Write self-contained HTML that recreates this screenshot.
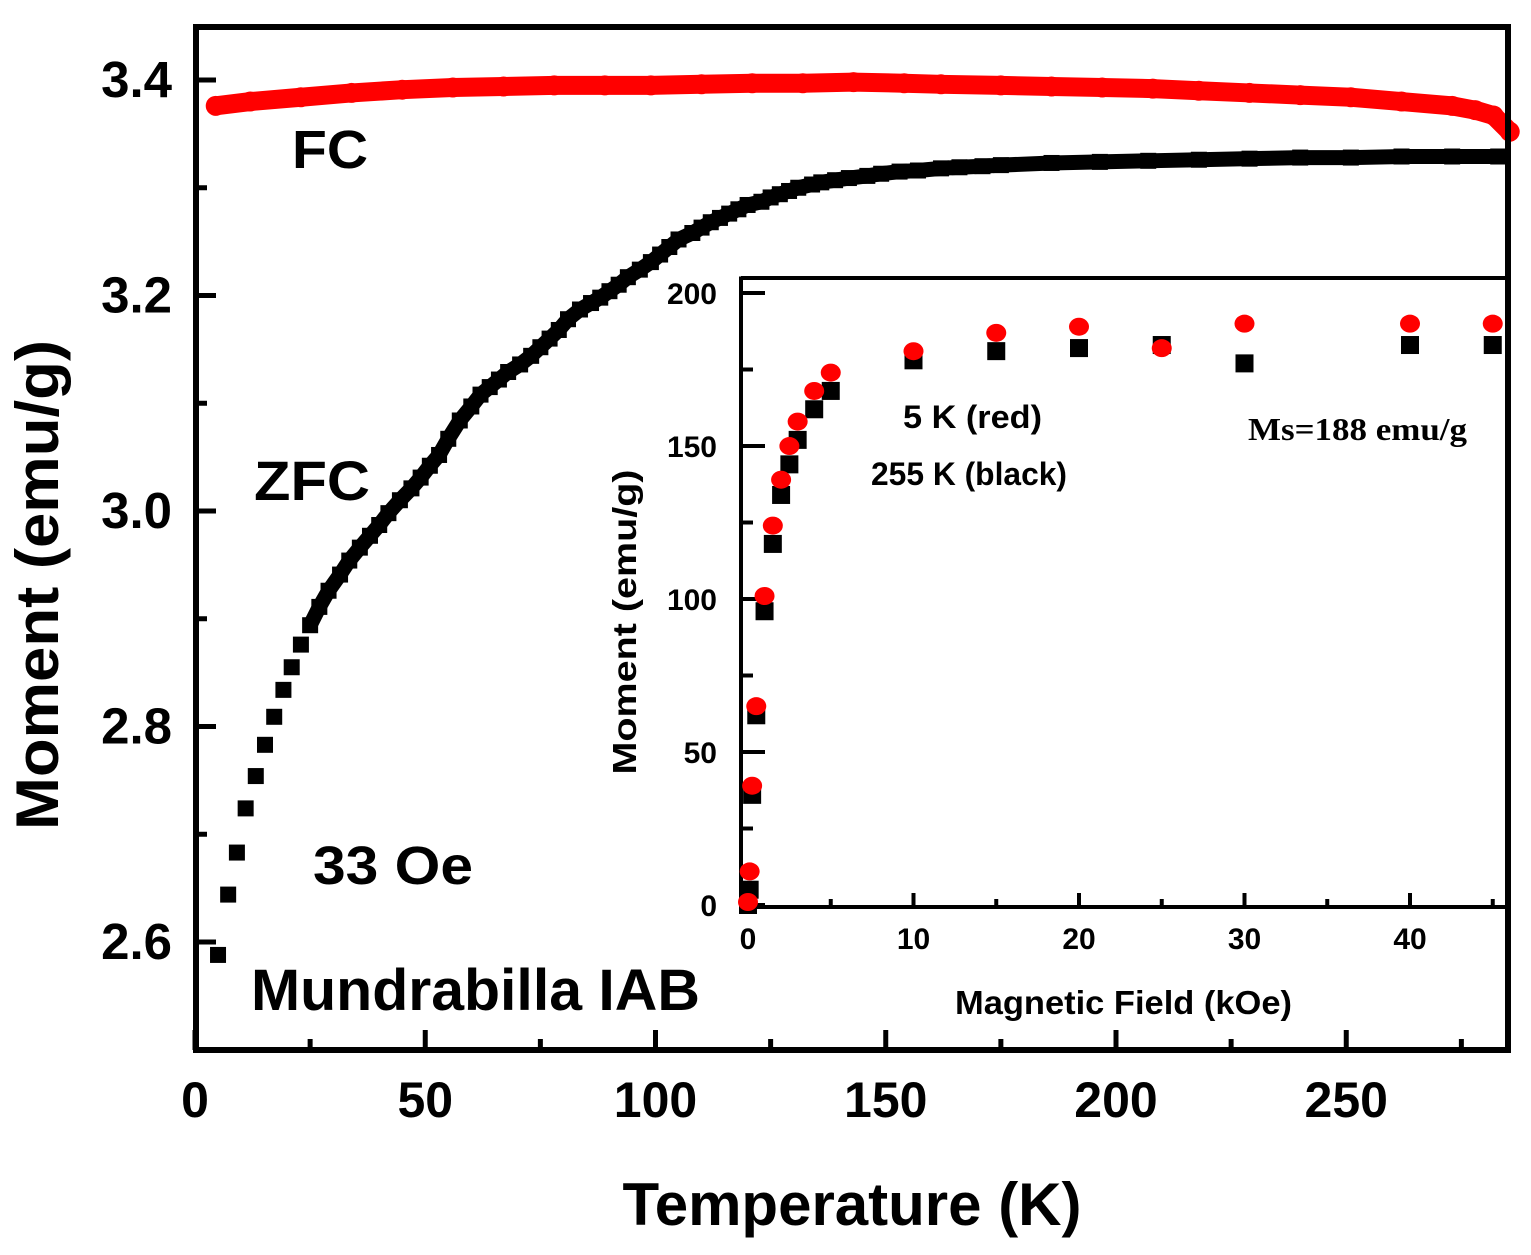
<!DOCTYPE html>
<html><head><meta charset="utf-8"><style>
html,body{margin:0;padding:0;background:#fff}
svg{display:block}
text{font-family:"Liberation Sans",Arial,sans-serif;font-weight:bold;fill:#000}
</style></head><body>
<svg id="chart" width="1531" height="1255" viewBox="0 0 1531 1255" xmlns="http://www.w3.org/2000/svg">
<g id="main"></g>
<g id="inset"></g>
</svg>
<script>
const zfcT=[5,7.2,9.1,11,13.2,15.2,17.2,19.2,21,23,25,27,29,31.5,33.5,35.8,38,40,42,44.5,47,49,51,53,55,57.5,60,62,64,66,68,70.6,73,75,77,79,81,83.6,86,88,90,92,94,96.6,99,101,103,105,108,110,112,114,116,118,120,123,125,127,129,131,134,136,139,142,146,149,153,157,162,166,171,175,186,196.5,207,218,229,240,251,262,273,283];
const zfcM=[2.588,2.644,2.683,2.724,2.754,2.783,2.809,2.834,2.855,2.876,2.894,2.911,2.926,2.941,2.954,2.966,2.977,2.987,2.998,3.010,3.021,3.031,3.042,3.052,3.067,3.084,3.097,3.108,3.115,3.122,3.129,3.136,3.144,3.152,3.160,3.168,3.178,3.187,3.193,3.198,3.204,3.210,3.217,3.224,3.231,3.238,3.245,3.252,3.258,3.263,3.268,3.272,3.276,3.280,3.284,3.287,3.291,3.294,3.297,3.300,3.303,3.305,3.307,3.309,3.311,3.313,3.315,3.316,3.318,3.319,3.320,3.321,3.323,3.324,3.325,3.326,3.327,3.328,3.328,3.329,3.329,3.329];
const fcT=[4.5,12,23,34,45,56,67,78,89,99,110,121,132,143,154,162,175,186,197,208,218,229,240,251,262,273,278,282,285.5];
const fcM=[3.376,3.380,3.384,3.388,3.391,3.393,3.394,3.395,3.395,3.395,3.396,3.397,3.397,3.398,3.397,3.396,3.395,3.394,3.393,3.392,3.390,3.388,3.386,3.384,3.380,3.376,3.372,3.367,3.352];
const xTicks=[0,50,100,150,200,250];
const yTicks=[2.6,2.8,3.0,3.2,3.4];
const yTickLabels=["2.6","2.8","3.0","3.2","3.4"];
const inH=[0,0.1,0.25,0.5,1,1.5,2,2.5,3,4,5,10,15,20,25,30,40,45];
const inRed=[0,10,38,64,100,123,138,149,157,167,173,180,186,188,181,189,189,189];
const inBlack=[0,5,36,62,96,118,134,144,152,162,168,178,181,182,183,177,183,183];
const inXTicks=[0,10,20,30,40];
const inYTicks=[0,50,100,150,200];

const NS="http://www.w3.org/2000/svg";
function mk(parent,tag,attrs){const e=document.createElementNS(NS,tag);for(const k in attrs)e.setAttribute(k,attrs[k]);parent.appendChild(e);return e;}
const main=document.getElementById('main');
const inset=document.getElementById('inset');
const X=t=>195+(t)*4.605;
const Y=m=>80+(3.4-m)*1077.5;
const L=196,R=1508,T=27,B=1050;
const IX=h=>748+h*16.55;
const IY=v=>905-v*3.06;
const IL=741,IT=278,IB=907;

for(let t=0;t<=285;t+=25){const major=t%50===0;
 const tk=mk(main,'line',{x1:X(t),x2:X(t),y1:B,y2:B-(major?20:11),stroke:'#000','stroke-width':5});
 }
xTicks.forEach(t=>{const e=mk(main,'text',{x:X(t),y:1117,'text-anchor':'middle','font-size':50});e.textContent=t;
 });
for(let m=2.5;m<=3.45;m+=0.1){const mm=Math.round(m*10)/10;const major=Math.round(mm*10)%2===0;
 const e=mk(main,'line',{x1:L,x2:L+(major?20:11),y1:Y(mm),y2:Y(mm),stroke:'#000','stroke-width':5});
 }
yTicks.forEach((m,i)=>{const e=mk(main,'text',{x:172,y:Y(m)+17,'text-anchor':'end','font-size':51});e.textContent=yTickLabels[i];
 });

const zl=mk(main,'polyline',{points:zfcT.filter((t,i)=>i>=10).map((t,i)=>X(t)+','+Y(zfcM[i+10])).join(' '),fill:'none',stroke:'#000','stroke-width':15});

zfcT.forEach((t,i)=>{const e=mk(main,'rect',{x:X(t)-8,y:Y(zfcM[i])-8,width:16,height:16,fill:'#000'});
 });
const fl=mk(main,'polyline',{points:fcT.map((t,i)=>X(t)+','+Y(fcM[i])).join(' '),fill:'none',stroke:'#f00','stroke-width':19,'stroke-linecap':'round','stroke-linejoin':'round'});

fcT.forEach((t,i)=>{const e=mk(main,'circle',{cx:X(t),cy:Y(fcM[i]),r:10,fill:'#f00'});
 });

const ib=mk(inset,'rect',{x:IL,y:IT,width:1508-IL,height:IB-IT,fill:'#fff'});

const ia=mk(inset,'path',{d:`M${IL} ${IT} H1508 M${IL} ${IT-1.5} V${IB} H1508`,stroke:'#000','stroke-width':4,fill:'none'});

for(let h=0;h<=45;h+=5){const major=h%10===0;
 const e=mk(inset,'line',{x1:IX(h),x2:IX(h),y1:IB,y2:IB-(major?14:8),stroke:'#000','stroke-width':4});
 }
inXTicks.forEach(h=>{const e=mk(inset,'text',{x:IX(h),y:949,'text-anchor':'middle','font-size':30});e.textContent=h;
 });
for(let v=0;v<=200;v+=25){const major=v%50===0;
 const e=mk(inset,'line',{x1:IL,x2:IL+(major?24:12),y1:IY(v),y2:IY(v),stroke:'#000','stroke-width':4});
 }
inYTicks.forEach(v=>{const e=mk(inset,'text',{x:717,y:IY(v)+11,'text-anchor':'end','font-size':30});e.textContent=v;
 });
inH.forEach((h,i)=>{const e=mk(inset,'rect',{x:IX(h)-9,y:IY(inBlack[i])-9,width:18,height:18,fill:'#000'});
 });
inH.forEach((h,i)=>{const e=mk(inset,'ellipse',{cx:IX(h),cy:IY(inRed[i])-3,rx:10,ry:9,fill:'#f00'});
 });
</script>
<svg style="position:absolute;left:0;top:0" width="1531" height="1255">
<rect x="196" y="27" width="1312" height="1023" fill="none" stroke="#000" stroke-width="6"/>
<text x="292" y="168" font-size="54" textLength="76" lengthAdjust="spacingAndGlyphs">FC</text>
<text x="254" y="500" font-size="56" textLength="116" lengthAdjust="spacingAndGlyphs">ZFC</text>
<text x="313" y="884" font-size="54" textLength="160" lengthAdjust="spacingAndGlyphs">33 Oe</text>
<text x="251" y="1010" font-size="58" textLength="449" lengthAdjust="spacingAndGlyphs">Mundrabilla IAB</text>
<text x="852" y="1225" font-size="60" text-anchor="middle">Temperature (K)</text>
<text transform="translate(58,585) rotate(-90)" font-size="60" text-anchor="middle" textLength="490" lengthAdjust="spacingAndGlyphs">Moment (emu/g)</text>
<text x="903" y="428" font-size="32" textLength="139" lengthAdjust="spacingAndGlyphs">5 K (red)</text>
<text x="871" y="485" font-size="32" textLength="196" lengthAdjust="spacingAndGlyphs">255 K (black)</text>
<text x="1248" y="440" font-size="32" textLength="219" lengthAdjust="spacingAndGlyphs" style="font-family:'Liberation Serif',serif">Ms=188 emu/g</text>
<text x="955" y="1014" font-size="33" textLength="337" lengthAdjust="spacingAndGlyphs">Magnetic Field (kOe)</text>
<text transform="translate(636,622) rotate(-90)" font-size="33" text-anchor="middle" textLength="305" lengthAdjust="spacingAndGlyphs">Moment (emu/g)</text>
</svg>
</body></html>
